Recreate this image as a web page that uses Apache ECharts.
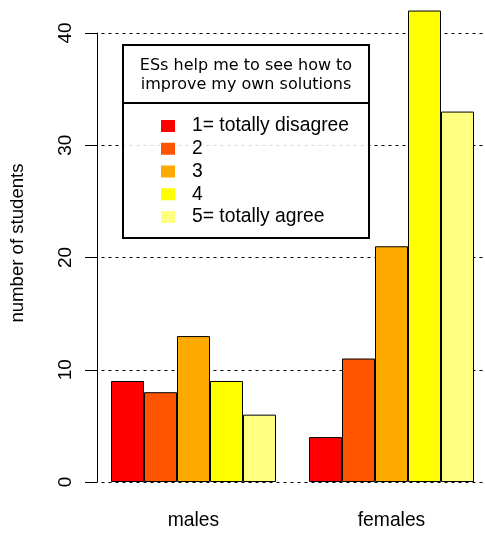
<!DOCTYPE html>
<html>
<head>
<meta charset="utf-8">
<script src="https://cdn.jsdelivr.net/npm/echarts@6/dist/echarts.min.js"></script>
<style>
html,body{margin:0;padding:0;background:#fff;overflow:hidden;width:485px;height:534px;}
#chart{width:500px;height:534px;}
</style>
</head>
<body>
<div id="chart"></div>
<script>
var categories = ['males', 'females'];
var responseNames = ['1= totally disagree', '2', '3', '4', '5= totally agree'];
var r1 = [9, 4];
var r2 = [8, 11];
var r3 = [13, 21];
var r4 = [9, 42];
var r5 = [6, 33];
var yTicks = [0, 10, 20, 30, 40];
var colors = ['#FF0000', '#FF5500', '#FFAA00', '#FFFF00', '#FFFF80'];
var legendTitle = ['ESs help me to see how to', 'improve my own solutions'];
var yTitle = 'number of students';

var seriesValues = [r1, r2, r3, r4, r5];
var font = 'Liberation Sans, Arial, sans-serif';

var chart = echarts.init(document.getElementById('chart'), null, {renderer: 'canvas'});
var option = {
  animation: false,
  backgroundColor: '#ffffff',
  grid: {left: 94.5, width: 396, top: 33, bottom: 52, containLabel: false},
  xAxis: {
    type: 'category',
    data: categories,
    axisLine: {show: false},
    axisTick: {show: false},
    axisLabel: {fontSize: 19.3, fontFamily: font, color: '#000', margin: 29},
    splitLine: {show: false}
  },
  yAxis: {
    type: 'value',
    min: yTicks[0],
    max: yTicks[yTicks.length - 1],
    interval: 10,
    offset: -2.5,
    axisLine: {show: true, lineStyle: {color: '#000', width: 1}},
    axisTick: {show: true, length: 12, lineStyle: {color: '#000', width: 1}},
    axisLabel: {rotate: 90, fontSize: 19, fontFamily: font, color: '#000', margin: 22},
    splitLine: {show: true, lineStyle: {color: '#000', width: 1, type: [3, 4]}}
  },
  legend: {
    orient: 'vertical',
    left: 161,
    top: 116,
    padding: 0,
    itemWidth: 14,
    itemHeight: 12,
    itemGap: 2.75,
    icon: 'rect',
    itemStyle: {borderWidth: 0},
    textStyle: {fontSize: 19.3, fontFamily: font, color: '#000', lineHeight: 20, padding: [0, 0, 0, 12]},
    data: responseNames,
    z: 10
  },
  graphic: [
    {
      type: 'rect', z: 5,
      shape: {x: 123, y: 45, width: 246, height: 193},
      style: {fill: 'rgba(255,255,255,0.85)', stroke: '#000', lineWidth: 2}
    },
    {
      type: 'line', z: 6,
      shape: {x1: 123, y1: 103, x2: 369, y2: 103},
      style: {stroke: '#000', lineWidth: 2}
    },
    {
      type: 'text', z: 6,
      x: 246, y: 75.5,
      style: {
        text: legendTitle.join('\n'),
        font: '16px "DejaVu Sans", sans-serif',
        lineHeight: 19,
        fill: '#000',
        align: 'center',
        verticalAlign: 'middle'
      }
    },
    {
      type: 'text', z: 6,
      x: 18, y: 243,
      rotation: Math.PI / 2,
      style: {
        text: yTitle,
        font: '18.6px "Liberation Sans", Arial, sans-serif',
        fill: '#000',
        align: 'center',
        verticalAlign: 'middle'
      }
    }
  ],
  series: seriesValues.map(function (vals, i) {
    return {
      type: 'bar',
      name: responseNames[i],
      data: vals,
      barWidth: 33,
      barGap: '0%',
      clip: false,
      itemStyle: {color: colors[i], borderColor: '#000', borderWidth: 1}
    };
  })
};
chart.setOption(option);
</script>
</body>
</html>
